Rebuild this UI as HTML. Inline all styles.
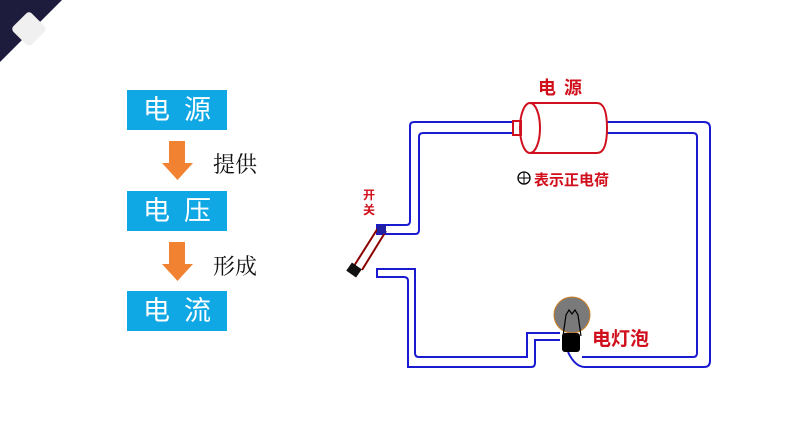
<!DOCTYPE html>
<html><head><meta charset="utf-8"><style>
body{margin:0;width:794px;height:447px;background:#fff;position:relative;overflow:hidden;font-family:"Liberation Sans","Noto Sans CJK SC",sans-serif}
.box{position:absolute;left:127px;width:100px;height:40px;background:#0fa8e4;color:#fff;font-size:27px;line-height:40px;text-align:center;letter-spacing:14px;text-indent:14px}
.lab{position:absolute;left:213px;font-size:22px;color:#111;font-family:"Liberation Serif","Noto Serif CJK SC",serif}
</style></head><body>
<svg width="794" height="447" style="position:absolute;left:0;top:0">
<polygon points="0,0 62,0 0,62" fill="#1e1c3c"/>
<rect x="16" y="16" width="26" height="26" rx="4" transform="rotate(45 29 29)" fill="#f0f0f0"/>
<g fill="#f08232">
<rect x="169" y="141" width="16" height="22"/><polygon points="162,163 193,163 177.5,180"/>
<rect x="169" y="242" width="16" height="22"/><polygon points="162,264 193,264 177.5,281"/>
</g>
<g fill="none" stroke="#1a1ad0" stroke-width="2">
<path d="M513,122 H414 Q410,122 410,126 V221 Q410,225 406,225 H377 V234 H415 Q419,234 419,230 V137 Q419,133 423,133 H513"/>
<path d="M607,122 H704 Q710,122 710,128 V361 Q710,367 704,367 H585 Q575,367 568,352"/>
<path d="M607,133 H693 Q697,133 697,137 V353 Q697,357 693,357 H582"/>
<path d="M560,333 H527 V357 H419 Q415,357 415,353 V269 H377 V277 H404 Q408,277 408,281 V367 H531 Q535,367 535,363 V340 H560"/>
</g>
<g fill="none" stroke="#d0101c" stroke-width="2">
<path d="M530,103 H597 Q607,103 607,128 Q607,153 597,153 H530"/>
<ellipse cx="530" cy="128" rx="10" ry="25"/>
<rect x="513" y="121" width="8" height="14"/>
</g>
<g stroke="#8b0000" stroke-width="2"><line x1="378" y1="228" x2="354" y2="266"/><line x1="386" y1="231" x2="362" y2="270"/></g>
<rect x="377" y="225" width="9" height="9" fill="#2020a0"/>
<rect x="348" y="265" width="12" height="10" fill="#111" transform="rotate(35 354 270)"/>
<circle cx="572" cy="315" r="18" fill="#7a7a7a" stroke="#d08020" stroke-width="1"/>
<path d="M563,336 L566,315 L569,310 L572,314 L575,310 L578,315 L581,336" fill="none" stroke="#000" stroke-width="1.2"/>
<rect x="562" y="333" width="18" height="19" rx="3" fill="#000"/>
<circle cx="524" cy="178" r="6" fill="none" stroke="#000" stroke-width="1.3"/>
<line x1="518" y1="178" x2="530" y2="178" stroke="#000"/><line x1="524" y1="172" x2="524" y2="184" stroke="#000"/>
</svg>
<div class="box" style="top:90px">电源</div>
<div class="box" style="top:191px">电压</div>
<div class="box" style="top:291px">电流</div>
<div class="lab" style="top:148px">提供</div>
<div class="lab" style="top:250px">形成</div>
<div style="position:absolute;left:538px;top:74px;color:#d0101c;font-size:18px;font-weight:bold;letter-spacing:8px">电源</div>
<div style="position:absolute;left:534px;top:169px;color:#d0101c;font-size:15px;font-weight:bold">表示正电荷</div>
<div style="position:absolute;left:363px;top:188px;color:#d0101c;font-size:12px;font-weight:bold;width:14px;line-height:15px">开关</div>
<div style="position:absolute;left:592px;top:324px;color:#d0101c;font-size:19px;font-weight:bold">电灯泡</div>
</body></html>
